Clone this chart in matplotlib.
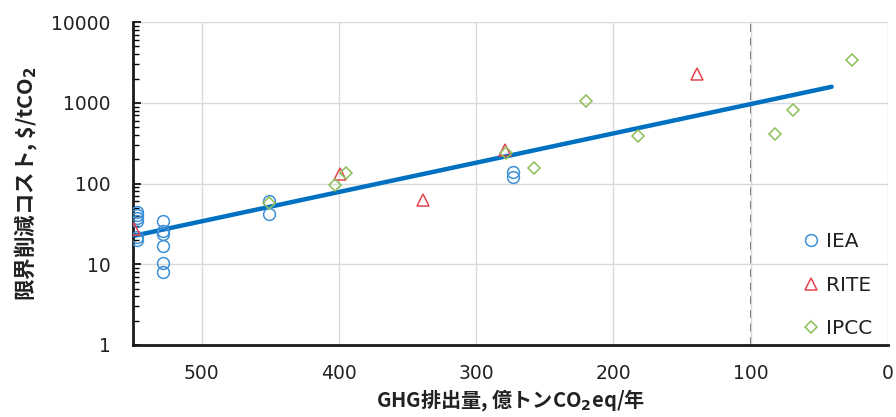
import matplotlib
matplotlib.use("Agg")
import matplotlib.pyplot as plt
from matplotlib.ticker import LogLocator, NullFormatter

# IEA scenarios
iea_x = [547, 547, 547, 547, 547, 547, 528, 528, 528, 528, 528, 528, 451, 451, 273, 273]
iea_y = [44, 41, 37, 34, 22, 20, 34, 26, 24, 17, 10.5, 8, 61, 42, 138, 122]

# RITE scenarios
rite_x = [549, 399, 339, 279, 139]
rite_y = [27, 130, 62, 260, 2250]

# IPCC scenarios
ipcc_x = [451, 403, 395, 278, 258, 220, 182, 82, 69, 26]
ipcc_y = [58, 96, 136, 240, 157, 1050, 387, 410, 820, 3380]

# trend line end points
trend_x = [550, 41]
trend_y = [22.4, 1580]

target_x = 100

JP = ["Noto Sans CJK JP", "DejaVu Sans"]


def main():
    fig = plt.figure(figsize=(8.96, 4.17), dpi=100)
    ax = fig.add_axes([0.1484, 0.1727, 0.8426, 0.7743])

    ax.set_yscale("log")
    ax.set_xlim(550, 0)
    ax.set_ylim(1, 10000)

    ax.grid(True, which="major", color="#d9d9d9", linewidth=1.0, zorder=0)
    ax.axvline(target_x, color="#666666", linestyle=(0, (4, 3)), linewidth=1.4, zorder=1)

    ax.plot(trend_x, trend_y, color="#0070C0", linewidth=3.2, solid_capstyle="round", zorder=2)

    ax.plot(iea_x, iea_y, linestyle="none", marker="o", markersize=8.5,
            markerfacecolor="none", markeredgecolor="#3D8FD6", markeredgewidth=1.1,
            label="IEA", zorder=3)
    ax.plot(rite_x, rite_y, linestyle="none", marker="^", markersize=9,
            markerfacecolor="none", markeredgecolor="#E5444E", markeredgewidth=1.1,
            label="RITE", zorder=3)
    ax.plot(ipcc_x, ipcc_y, linestyle="none", marker="D", markersize=6.5,
            markerfacecolor="none", markeredgecolor="#8CBF58", markeredgewidth=1.1,
            label="IPCC", zorder=3)

    ax.set_xticks([500, 400, 300, 200, 100, 0])
    ax.set_yticks([1, 10, 100, 1000, 10000])
    ax.set_yticklabels(["1", "10", "100", "1000", "10000"])
    ax.yaxis.set_minor_locator(LogLocator(base=10, subs=range(2, 10), numticks=10))
    ax.yaxis.set_minor_formatter(NullFormatter())

    ax.tick_params(axis="x", length=0, labelsize=13.5, labelcolor="#222222", pad=14)
    ax.tick_params(axis="y", which="major", direction="in", length=6, width=1.2,
                   labelsize=13.5, labelcolor="#222222", pad=16)
    ax.tick_params(axis="y", which="minor", direction="in", length=4, width=1.0)

    for side in ("top", "right"):
        ax.spines[side].set_visible(False)
    for side in ("left", "bottom"):
        ax.spines[side].set_linewidth(2.0)
        ax.spines[side].set_color("#1a1a1a")

    ax.set_xlabel(r"GHG排出量, 億トンCO$_\mathbf{2}$eq/年", family=JP, fontweight="bold",
                  fontsize=14.5, labelpad=3, color="#222222")
    ax.set_ylabel("限界削減コスト, \\$/tCO$_\\mathbf{2}$", family=JP,
                  fontweight="bold", fontsize=15.5, labelpad=8, color="#222222")

    leg = ax.legend(loc="lower right", bbox_to_anchor=(0.992, -0.01), frameon=False,
                    fontsize=14.5, labelspacing=1.22, handletextpad=0.2,
                    handlelength=1.0, borderaxespad=0.1)
    for t in leg.get_texts():
        t.set_color("#222222")

    fig.savefig("out.png", dpi=100)
    plt.close(fig)


if __name__ == "__main__":
    main()
